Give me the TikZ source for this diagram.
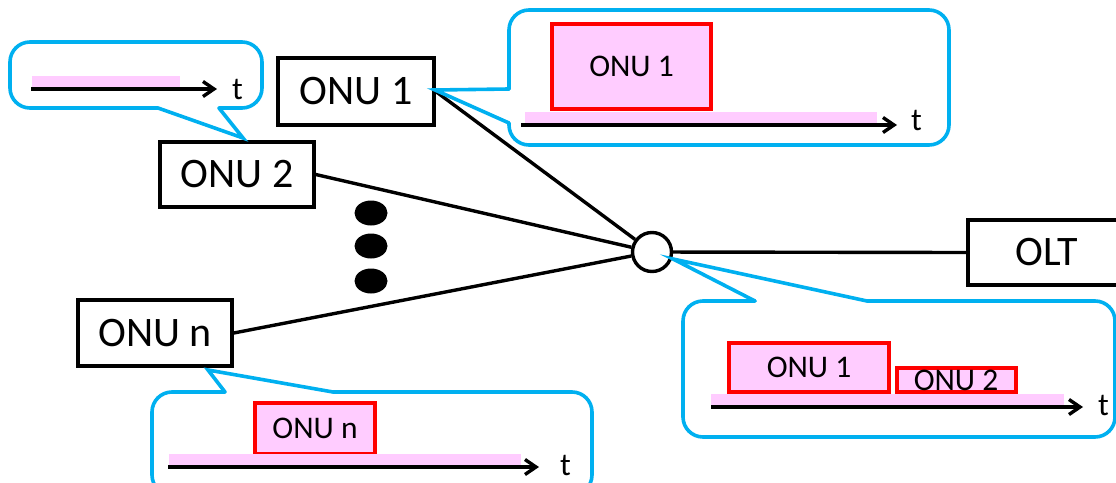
\documentclass[tikz,border=0pt]{standalone}
\usepackage{fontspec}
\setmainfont{Carlito}
\usetikzlibrary{arrows.meta,shapes.geometric}
\definecolor{callcyan}{HTML}{00B0F0}
\definecolor{slotpink}{HTML}{FFCCFF}
\begin{document}
\begin{tikzpicture}[x=1pt,y=-1pt,
  mainbox/.style={draw=black, line width=3.6pt, inner sep=0pt, fill=white, font=\fontsize{42}{50}\selectfont},
  link/.style={line width=3.4pt},
  callout/.style={draw=callcyan, line width=3.6pt, rounded corners=20pt, line cap=round, line join=round},
  tail/.style={draw=callcyan, line width=3.6pt, line cap=round, line join=miter},
  slot/.style={draw=red, fill=slotpink, line width=3.4pt, inner sep=0pt, font=\fontsize{31.5}{38}\selectfont},
  bar/.style={fill=slotpink},
  taxis/.style={line width=3.4pt, -{Straight Barb[length=11pt,width=15pt]}},
  tlabel/.style={anchor=base west, inner sep=0pt, font=\fontsize{32}{38}\selectfont},
  dotmark/.style={ellipse, fill=black, minimum width=33pt, minimum height=25pt, inner sep=0pt}
]
\useasboundingbox (0,0) rectangle (1116,482);

% main nodes
\node[mainbox, minimum width=156pt, minimum height=67pt] (onu1) at (356,91.5) {ONU 1};
\node[mainbox, minimum width=154pt, minimum height=65pt] (onu2) at (237,174.5) {ONU 2};
\node[mainbox, minimum width=154pt, minimum height=66pt] (onun) at (155,333) {ONU n};
\node[mainbox, minimum width=158pt, minimum height=65pt] (olt) at (1047,252.5) {OLT};
\node[draw, circle, line width=3.4pt, minimum size=39pt, inner sep=0pt, fill=white] (split) at (652,252) {};

\node[dotmark] (d1) at (371,213) {};
\node[dotmark] (d2) at (371,246) {};
\node[dotmark] (d3) at (371,281) {};

% links
\draw[link] (onu1.east) -- (split);
\draw[link] (onu2.east) -- (split);
\draw[link] (onun.east) -- (split);
\draw[link] (split) -- (olt.west);

% callout: ONU 2 (top left)
\draw[callout] (219,108) -- (262,108) -- (262,42) -- (10,42) -- (10,108) -- (158,108);
\draw[tail] (158,108) -- (243,138) -- (219,108);
\fill[bar] (32,76) rectangle (180,87);
\draw[taxis] (31,89) -- (217,89);
\node[tlabel] (t2) at (232,99) {t};

% callout: ONU 1
\draw[callout] (509,89) -- (509,10) -- (949,10) -- (949,145) -- (509,145) -- (509,123);
\draw[tail] (509,89) -- (435,90) -- (509,123);
\node[slot, minimum width=159pt, minimum height=85pt] (s1) at (631.5,66.5) {ONU 1};
\fill[bar] (525,112) rectangle (877,123.5);
\draw[taxis] (521,125) -- (897,125);
\node[tlabel] (t1) at (911,130) {t};

% callout: OLT side (bottom right)
\draw[callout] (755,301) -- (683,301) -- (683,437) -- (1115,437) -- (1115,301) -- (867,301);
\draw[tail] (755,301) -- (673,259) -- (867,301);
\node[slot, minimum width=160pt, minimum height=49pt] (r1) at (809,367.5) {ONU 1};
\node[slot, minimum width=119pt, minimum height=24pt] (r2) at (956.5,380) {};
\node[anchor=base, inner sep=0pt, font=\fontsize{31.5}{38}\selectfont] (r2l) at (956,390) {ONU 2};
\fill[bar] (711,394) rectangle (1064,405);
\draw[taxis] (711,407) -- (1083,407);
\node[tlabel] (t3) at (1098,415) {t};

% callout: ONU n (bottom)
\draw[callout] (225,392) -- (152,392) -- (152,495) -- (592,495) -- (592,392) -- (333,392);
\draw[tail] (225,392) -- (208,370) -- (333,392);
\node[slot, minimum width=120pt, minimum height=51pt] (sn) at (315,428.5) {ONU n};
\fill[bar] (169,454) rectangle (521,465);
\draw[taxis] (168,467) -- (539,467);
\node[tlabel] (t4) at (560,475) {t};
\end{tikzpicture}
\end{document}
